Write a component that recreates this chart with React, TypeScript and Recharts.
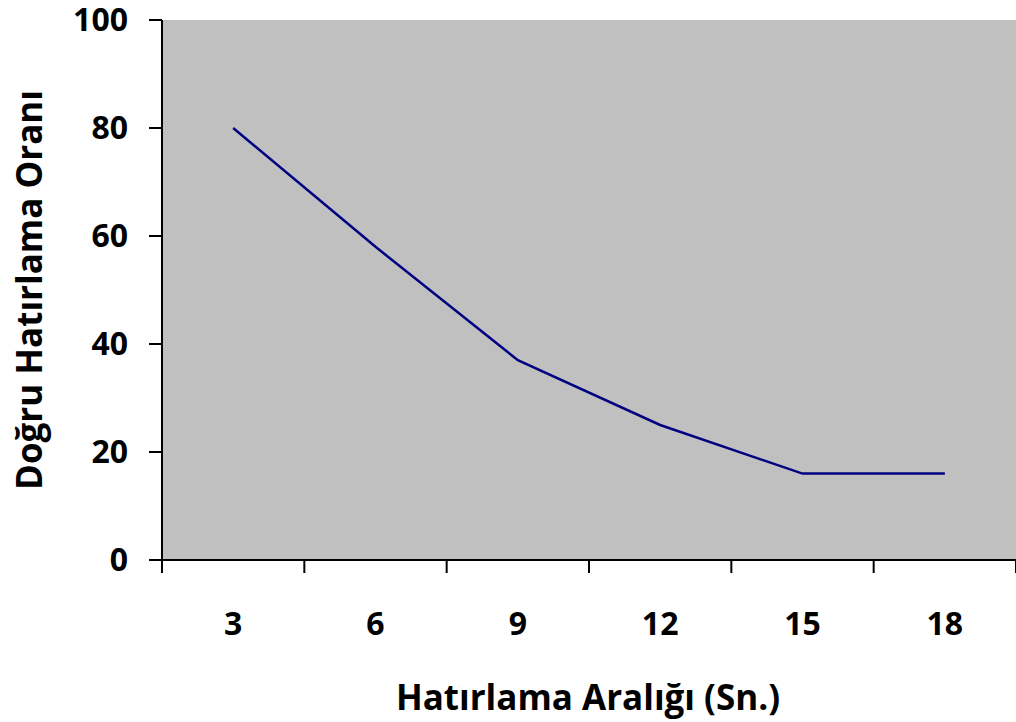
import { LineChart, Line, XAxis, YAxis, CartesianGrid, Label } from 'recharts';

const categories = ['3', '6', '9', '12', '15', '18'];
const recallRates = [80, 58, 37, 25, 16, 16];
const yTicks = [0, 20, 40, 60, 80, 100];

const data = categories.map((c, i) => ({ interval: c, rate: recallRates[i] }));

const FONT = '"Open Sans", Lato, sans-serif';

// Excel style category axis: tick marks on band edges, label in the band middle
function CategoryTick(props: any) {
  const { x, y, payload, index, width } = props;
  const band = (typeof width === 'number' ? width : 854) / categories.length;
  const left = x - band / 2;
  const right = x + band / 2;
  return (
    <g>
      <line x1={left} x2={left} y1={y} y2={y + 13} stroke="#000" strokeWidth={2} />
      {index === categories.length - 1 && (
        <line x1={right} x2={right} y1={y} y2={y + 13} stroke="#000" strokeWidth={2} />
      )}
      <text x={x} y={y + 75} textAnchor="middle" fill="#000" fontSize={32} fontWeight="bold" fontFamily={FONT}>
        {payload.value}
      </text>
    </g>
  );
}

export default function App() {
  return (
    <div style={{ width: 1016, height: 722 }}>
      <style>{'body{margin:0}'}</style>
      <LineChart
        width={1016}
        height={722}
        data={data}
        margin={{ top: 20, right: 0, left: 0, bottom: 0 }}
        style={{ fontFamily: FONT }}
      >
        <CartesianGrid fill="#C0C0C0" stroke="none" horizontal={false} vertical={false} />
        <XAxis
          dataKey="interval"
          scale="band"
          height={162}
          axisLine={{ stroke: '#000', strokeWidth: 2 }}
          tickLine={false}
          tickSize={0}
          tickMargin={0}
          interval={0}
          tick={<CategoryTick />}
        >
          <Label
            content={({ viewBox }: any) => (
              <text
                x={viewBox.x + viewBox.width / 2 - 1}
                y={710}
                textAnchor="middle"
                fill="#000"
                fontSize={35}
                fontWeight="bold"
                fontFamily={FONT}
              >
                Hatırlama Aralığı (Sn.)
              </text>
            )}
          />
        </XAxis>
        <YAxis
          domain={[0, 100]}
          ticks={yTicks}
          width={162}
          axisLine={{ stroke: '#000', strokeWidth: 2 }}
          tickLine={{ stroke: '#000', strokeWidth: 2 }}
          tickSize={13}
          tickMargin={21}
          tick={{ fill: '#000', fontSize: 32, fontWeight: 'bold' }}
        >
          <Label
            content={({ viewBox }: any) => {
              const cy = viewBox.y + viewBox.height / 2;
              return (
                <text
                  x={42}
                  y={cy}
                  transform={`rotate(-90, 42, ${cy})`}
                  textAnchor="middle"
                  fill="#000"
                  fontSize={35}
                  fontWeight="bold"
                  fontFamily={FONT}
                >
                  Doğru Hatırlama Oranı
                </text>
              );
            }}
          />
        </YAxis>
        <Line
          type="linear"
          dataKey="rate"
          stroke="#000080"
          strokeWidth={2.5}
          dot={false}
          isAnimationActive={false}
        />
      </LineChart>
    </div>
  );
}
